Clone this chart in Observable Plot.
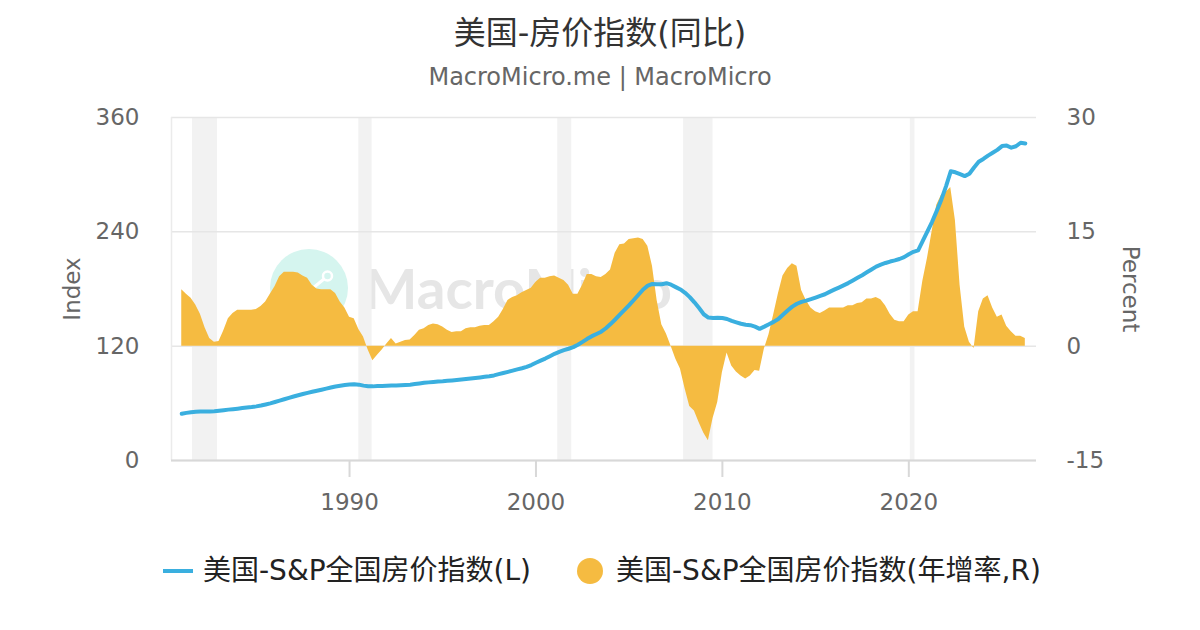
<!DOCTYPE html>
<html>
<head>
<meta charset="utf-8">
<script src="https://cdn.jsdelivr.net/npm/d3@7"></script>
<script src="https://cdn.jsdelivr.net/npm/@observablehq/plot@0.6"></script>
<style>
  html, body { margin: 0; padding: 0; background: #fff; }
  body { width: 1200px; height: 630px; overflow: hidden; font-family: "DejaVu Sans", "Noto Sans CJK SC", sans-serif; }
  #header { position: relative; height: 100px; }
  #title { position: absolute; left: 0; right: 0; top: 13px; text-align: center; font-size: 32px; line-height: 40px; color: #333; }
  #subtitle { position: absolute; left: 0; right: 0; top: 62px; text-align: center; font-size: 24px; line-height: 30px; color: #666; }
  #chartwrap { position: relative; width: 1200px; height: 440px; }
  #watermark { position: absolute; left: 0; top: 0; z-index: 0; }
  #chart { position: absolute; left: 0; top: 0; z-index: 1; }
  #legend { position: relative; height: 90px; }
  .lg-line { position: absolute; left: 163px; top: 29px; width: 30px; height: 4px; background: #3aafdf; }
  .lg-dot { position: absolute; left: 577px; top: 18px; width: 26px; height: 26px; border-radius: 50%; background: #f5bb41; }
  .lg-text { position: absolute; top: 11px; font-size: 28px; line-height: 40px; color: #222; white-space: nowrap; }
</style>
</head>
<body>
<div id="header">
  <div id="title">美国-房价指数(同比)</div>
  <div id="subtitle">MacroMicro.me | MacroMicro</div>
</div>
<div id="chartwrap">
  <svg id="watermark" width="1200" height="440">
    <circle cx="309" cy="188" r="39" fill="#d5f5ef"></circle>
    <line x1="324" y1="179" x2="313" y2="188" stroke="#fff" stroke-width="3"></line>
    <circle cx="327.5" cy="176" r="4.5" fill="none" stroke="#fff" stroke-width="2.5"></circle>
    <text x="364" y="209" font-family="Lato" font-weight="700" font-size="56" fill="#e6e6e6" textLength="308" lengthAdjust="spacingAndGlyphs">MacroMicro</text>
  </svg>
  <div id="chart"></div>
</div>
<div id="legend">
  <div class="lg-line"></div>
  <div class="lg-text" style="left:203px">美国-S&amp;P全国房价指数(L)</div>
  <div class="lg-dot"></div>
  <div class="lg-text" style="left:616px">美国-S&amp;P全国房价指数(年增率,R)</div>
</div>
<script>
// Quarterly observations starting 1981 Q1
const startYear = 1981;
const stepYears = 0.25;

// S&P national home price index (left axis), quarterly
const houseIndex = [
  49.0, 50.0, 50.7, 51.2,
  51.4, 51.5, 51.5, 51.6,
  52.2, 52.8, 53.4, 53.9,
  54.4, 55.0, 55.6, 56.1,
  56.8, 57.7, 58.8, 60.0,
  61.4, 62.8, 64.3, 65.8,
  67.2, 68.5, 69.8, 71.0,
  72.1, 73.2, 74.3, 75.4,
  76.6, 77.7, 78.5, 79.2,
  79.7, 80.0, 79.6, 78.6,
  77.9, 77.8, 78.1, 78.2,
  78.4, 78.6, 78.7, 78.9,
  79.2, 79.6, 80.2, 80.8,
  81.5, 82.0, 82.5, 83.0,
  83.2, 83.6, 84.0, 84.4,
  84.9, 85.5, 86.0, 86.6,
  87.2, 87.8, 88.4, 89.3,
  90.6, 91.8, 93.0, 94.3,
  95.6, 96.8, 98.3, 100.2,
  102.6, 104.8, 107.0, 109.5,
  112.0, 114.0, 115.8, 117.3,
  119.0, 121.5, 124.5, 127.7,
  130.5, 132.8, 135.2, 138.8,
  143.2, 148.0, 153.0, 158.0,
  163.0, 168.5, 174.0, 179.5,
  183.5, 185.3, 185.0, 185.0,
  186.1, 184.5, 182.0, 179.5,
  176.0, 171.5, 166.0, 160.0,
  153.5, 150.0, 149.5, 149.8,
  149.5, 148.5, 146.5, 145.0,
  143.5, 142.5, 142.0, 140.5,
  138.2, 140.5, 143.0, 145.5,
  148.5, 153.0, 157.5, 161.5,
  164.5, 166.5, 167.8, 169.3,
  171.0, 172.8, 174.5, 177.0,
  179.3, 181.5, 183.8, 186.2,
  189.0, 191.8, 194.5, 197.5,
  200.5, 203.5, 205.5, 207.3,
  208.8, 210.0, 211.5, 213.5,
  216.5, 219.0, 220.5, 230.5,
  240.5, 250.5, 262.0, 274.0,
  288.0, 303.5, 302.5, 300.5,
  298.5, 301.0, 307.5, 313.5,
  316.5, 320.0, 323.0, 326.0,
  330.0, 330.5, 328.3, 329.8,
  333.5, 332.8
];

// Year-over-year change, percent (right axis), quarterly
const yoyPct = [
  7.4, 6.8, 6.3, 5.4,
  4.2, 2.4, 1.0, 0.5,
  0.6, 2.0, 3.6, 4.3,
  4.7, 4.7, 4.7, 4.7,
  4.8, 5.2, 5.8, 6.8,
  7.8, 9.1, 9.7, 9.7,
  9.7, 9.6, 9.2, 8.9,
  8.0, 7.5, 7.4, 7.4,
  7.4, 6.9, 5.8, 5.0,
  3.8, 3.6, 2.2, 1.2,
  -0.5, -1.9, -1.2, -0.5,
  0.3, 1.0, 0.3, 0.5,
  0.75, 0.8, 1.4, 2.1,
  2.3, 2.7, 2.9, 2.8,
  2.5, 2.1, 1.8, 1.9,
  1.9, 2.3, 2.4, 2.4,
  2.6, 2.7, 2.7, 3.2,
  3.8, 4.8, 6.0, 6.4,
  6.6, 7.0, 7.3, 7.6,
  8.4, 8.9, 8.9, 9.1,
  9.2, 8.9, 8.6, 8.0,
  6.8, 6.8, 8.0, 9.4,
  9.4, 9.1, 9.0, 9.4,
  10.0, 12.2, 13.3, 13.4,
  14.0, 14.1, 14.2, 14.0,
  13.1, 10.5, 6.0, 2.8,
  1.6, 0.0, -1.7, -3.0,
  -5.6, -7.9, -8.5, -10.0,
  -11.4, -12.4, -9.5, -7.4,
  -3.5, -0.9, -2.6, -3.4,
  -3.9, -4.3, -3.9, -3.2,
  -3.3, -0.4, 1.5, 4.1,
  6.8, 9.2, 10.2, 10.8,
  10.5, 7.3, 6.0, 5.0,
  4.5, 4.3, 4.6, 5.0,
  5.0, 5.0, 5.0, 5.3,
  5.3, 5.6, 5.7, 6.2,
  6.2, 6.4, 6.1, 5.3,
  4.2, 3.4, 3.2, 3.2,
  4.1, 4.5, 4.5, 8.5,
  11.5, 15.0, 18.5, 19.8,
  20.2, 20.8, 16.5, 8.0,
  2.5, 0.5, -0.3, 4.5,
  6.2, 6.6, 5.0, 3.8,
  4.1, 2.6, 1.9, 1.3,
  1.3, 1.0
];

// US recessions (shaded bands), decimal years
const recessionStart = [1981.58, 1990.5, 2001.17, 2007.92, 2020.08];
const recessionEnd   = [1982.92, 1991.21, 2001.92, 2009.5, 2020.33];

// Axes
const xDomain = [1980.45, 2026.85];
const xTicks = [1990, 2000, 2010, 2020];
const indexTicks = [0, 120, 240, 360];
const percentTicks = [-15, 0, 15, 30];

// Map a percent value onto the index scale so both axes share one y scale
const toIdx = p => indexTicks[0] +
  (p - percentTicks[0]) * (indexTicks[indexTicks.length - 1] - indexTicks[0]) /
  (percentTicks[percentTicks.length - 1] - percentTicks[0]);

const rows = houseIndex.map((v, i) => ({ t: startYear + i * stepYears, idx: v, pct: yoyPct[i] }));
const recessions = recessionStart.map((s, i) => ({ s, e: recessionEnd[i] }));

const chart = Plot.plot({
  width: 1200,
  height: 440,
  marginTop: 17,
  marginBottom: 80,
  marginLeft: 171,
  marginRight: 164,
  style: { background: "transparent", fontFamily: "DejaVu Sans, sans-serif", fontSize: "23px", color: "#666", overflow: "visible" },
  x: { type: "linear", domain: xDomain },
  y: { domain: [indexTicks[0], indexTicks[indexTicks.length - 1]] },
  marks: [
    Plot.rect(recessions, { x1: "s", x2: "e", fill: "#f2f2f2" }),
    Plot.gridY(indexTicks, { stroke: "#e6e6e6", strokeOpacity: 1, strokeWidth: 1.5 }),
    Plot.ruleX([xDomain[0]], { stroke: "#ebebeb", strokeWidth: 1.5 }),
    Plot.areaY(rows, { x: "t", y1: toIdx(0), y2: d => toIdx(d.pct), fill: "#f5bb41" }),
    Plot.line(rows, { x: "t", y: "idx", stroke: "#3aafdf", strokeWidth: 4, strokeLinejoin: "round", strokeLinecap: "round" }),
    Plot.ruleY([indexTicks[0]], { stroke: "#d8d8d8", strokeWidth: 2 }),
    Plot.axisX({ ticks: xTicks, tickFormat: "d", tickSize: 17, tickPadding: 16, stroke: "#d8d8d8", strokeWidth: 2, fill: "#666", label: null }),
    Plot.axisY({ anchor: "left", ticks: indexTicks, tickSize: 0, tickPadding: 32, fill: "#666", label: null }),
    Plot.axisY({ anchor: "right", ticks: indexTicks, tickSize: 0, tickPadding: 30, fill: "#666", label: null,
                 tickFormat: v => String(percentTicks[indexTicks.indexOf(v)]) }),
    Plot.text(["Index"], { text: d => d, frameAnchor: "left", dx: -99, rotate: -90, textAnchor: "middle", lineAnchor: "middle", fill: "#666", fontSize: 23 }),
    Plot.text(["Percent"], { text: d => d, frameAnchor: "right", dx: 94, rotate: 90, textAnchor: "middle", lineAnchor: "middle", fill: "#666", fontSize: 23 })
  ]
});
document.getElementById("chart").appendChild(chart);
</script>
</body>
</html>
